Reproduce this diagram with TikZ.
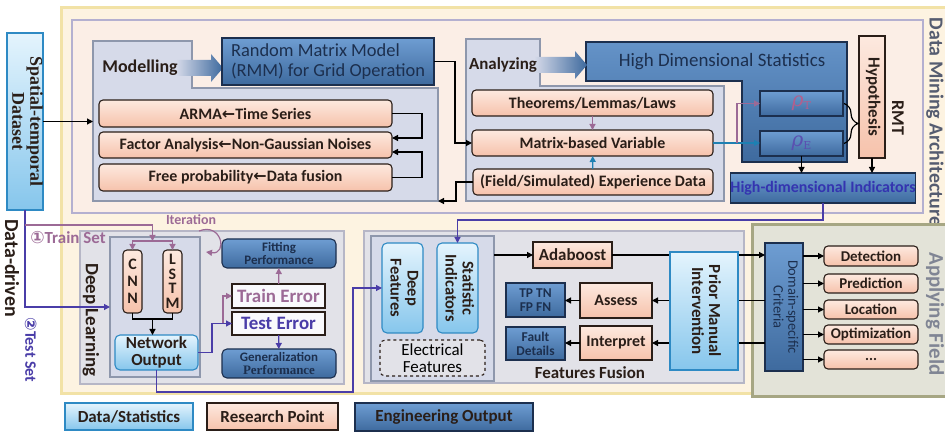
\documentclass[tikz,border=0pt]{standalone}
\usepackage{fontspec}
\setmainfont{Carlito}
\newfontfamily\symf{DejaVu Sans}
\newfontfamily\serf{Liberation Serif}
\newfontfamily\grk{DejaVu Serif}
\usepackage{graphicx}
\usetikzlibrary{arrows.meta,decorations.pathreplacing}
\definecolor{cream}{HTML}{FDF3E1}
\definecolor{frameY}{HTML}{F2E2A6}
\definecolor{topPanel}{HTML}{FBEEE6}
\definecolor{lav}{HTML}{B4B0D0}
\definecolor{panelB}{HTML}{D6DAE9}
\definecolor{panelBd}{HTML}{8E97AC}
\definecolor{greyP}{HTML}{E2E2E8}
\definecolor{greyPd}{HTML}{B6B6C6}
\definecolor{salT}{HTML}{FDE9DF}
\definecolor{salB}{HTML}{F6C2AB}
\definecolor{stT}{HTML}{6E9DD2}
\definecolor{stB}{HTML}{3E6A9E}
\definecolor{lbT}{HTML}{E4F4FD}
\definecolor{lbB}{HTML}{86C6EC}
\definecolor{lbD}{HTML}{2E8AC4}
\definecolor{navy}{HTML}{1C2F4E}
\definecolor{mauve}{HTML}{9C6A96}
\definecolor{violetL}{HTML}{4A3DA8}
\definecolor{tealL}{HTML}{1E80B2}
\definecolor{appF}{HTML}{E3E3D8}
\definecolor{appD}{HTML}{A6A683}
\definecolor{titleG}{HTML}{555C70}
\definecolor{ink}{HTML}{2A1E18}
\definecolor{rhoTc}{HTML}{B0608E}
\definecolor{rhoEc}{HTML}{5A50B0}
\definecolor{hdic}{HTML}{3434B0}
\newcommand\fsz[2]{\fontsize{#1}{#2}\selectfont}
\newcommand\rot[1]{\rotatebox{-90}{\begin{tabular}{@{}c@{}}#1\end{tabular}}}
\newcommand\rhosub[1]{{\grk\itshape ρ}\raisebox{-3bp}{\fsz{11}{11}\grk #1}}
\tikzset{
 pos4/.style n args={4}{at={({(#1+#3)/2},{(#2+#4)/2})}, minimum width={(#3-#1)*1bp}, minimum height={(#4-#2)*1bp}},
 base/.style={inner sep=0pt, outer sep=0pt, align=center, line width=1.1bp},
 sal/.style={base, draw=ink, top color=salT, bottom color=salB, rounded corners=4bp, font=\bfseries\fsz{16}{16}, text=ink},
 salsq/.style={sal, rounded corners=0pt},
 steel/.style={base, draw=navy, top color=stT, bottom color=stB, text=navy},
 lblue/.style={base, draw=lbD, top color=lbT, bottom color=lbB, rounded corners=5bp, text=ink},
 panel/.style={fill=panelB, draw=panelBd, line width=1.2bp},
 greypanel/.style={fill=greyP, draw=greyPd, line width=1.2bp},
 ghost/.style={base, draw=none, fill=none},
 plainln/.style={line width=1.2bp},
 conn/.style={line width=1.2bp, ->},
 ttl/.style={inner sep=0pt, text=ink},
}
\begin{document}
\begin{tikzpicture}[x=1bp, y=-1bp, >={Triangle[length=6bp,width=6bp]}]
\fill[white] (0,0) rectangle (945,436);
\useasboundingbox (0,0) rectangle (945,436);
% frames
\draw[fill=cream, draw=frameY, line width=3bp] (61,8) rectangle (962,394);
\draw[fill=topPanel, draw=lav, line width=1.2bp] (72,20) rectangle (923,213);

% ---------- Modelling ----------
\draw[panel] (93,41) -- (192,41) -- (192,88) -- (438,88) -- (438,201) -- (93,201) -- cycle;
\node[ghost, pos4={93}{41}{438}{201}] (modpanel) {};
\shade[left color=panelB, right color=stB] (176,60) -- (211,60) -- (211,54) -- (223,68) -- (211,82) -- (211,76) -- (176,76) -- cycle;
\node[ttl, font=\bfseries\fsz{18}{20}] (modt) at (140,68) {Modelling};
\node[steel, font=\fsz{18.5}{20}, align=left, pos4={222}{38}{434}{85}] (rmm) {Random Matrix Model\\(RMM) for Grid Operation};
\node[sal, pos4={99}{100}{392}{127}] (arma) {ARMA{\symf ←}Time Series};
\node[sal, pos4={99}{132}{392}{158}] (fac) {Factor Analysis{\symf ←}Non-Gaussian Noises};
\node[sal, pos4={99}{164}{392}{191}] (free) {Free probability{\symf ←}Data fusion};

% ---------- Analyzing ----------
\draw[line width=1.1bp, draw=navy, top color=stT!80!stB, bottom color=stB] (586,42) -- (847,42) -- (847,162) -- (742,162) -- (742,81) -- (586,81) -- cycle;
\node[ttl, font=\fsz{19}{20}, text=navy] (hdst) at (722,62) {High Dimensional Statistics};
\draw[panel] (466,39) -- (540,39) -- (540,86) -- (724,86) -- (724,201) -- (466,201) -- cycle;
\node[ghost, pos4={466}{39}{724}{201}] (anapanel) {};
\shade[left color=panelB, right color=stB] (534,57) -- (575,57) -- (575,51) -- (587,65) -- (575,79) -- (575,73) -- (534,73) -- cycle;
\node[ttl, font=\bfseries\fsz{17}{18}] (anat) at (503,65) {Analyzing};
\node[sal, pos4={472}{90}{713}{116}] (thm) {Theorems/Lemmas/Laws};
\node[sal, pos4={472}{130}{713}{156}] (mat) {Matrix-based Variable};
\node[sal, pos4={473}{169}{713}{195}] (expd) {(Field/Simulated) Experience Data};

\node[steel, pos4={760}{91}{843}{116}, font=\fsz{20}{20}, text=rhoTc] (rhoT) {\rhosub{T}};
\node[steel, pos4={760}{131}{843}{156}, font=\fsz{20}{20}, text=rhoEc] (rhoE) {\rhosub{E}};
\node[salsq, pos4={859}{36}{885}{158}, font=\bfseries\fsz{17}{17}] (hyp) {\rot{Hypothesis}};
\node[ttl, font=\bfseries\fsz{18}{18}, rotate=-90] (rmt) at (898,118) {RMT};
\node[steel, pos4={734}{173}{912}{203}, font=\bfseries\fsz{16}{16}, text=hdic] (hdi) {High-dimensional Indicators};
\node[ttl, font=\bfseries\fsz{20}{20}, text=titleG, rotate=-90] (dma) at (935,122) {Data Mining Architecture};

% top connectors
\draw[conn] (arma.east) -- ++(30,0) |- ([yshift=7bp]fac.east);
\draw[conn] (free.east) -- ++(30,0) |- ([yshift=-7bp]fac.east);
\draw[conn] (rmm.east) -- ++(21,0) |- (mat.west);
\draw[conn] (expd.west) -- ++(-17,0) |- (modpanel.south east);
\draw[conn, mauve] (thm) -- (mat);
\draw[conn, tealL] (expd) -- (mat);
\draw[conn, tealL] (mat.east) -- (mat.east -| rhoE.west);
\coordinate (brT) at (737,143);
\draw[conn, mauve] (brT) |- (rhoT.west);
\draw[plainln, decorate, decoration={brace, amplitude=14bp}] ([xshift=1bp]rhoT.east) -- ([xshift=1bp]rhoE.east);
\draw[conn] (rhoE.south) -- (rhoE.south |- hdi.north);
\draw[conn] (hyp.south) -- (hyp.south |- hdi.north);

% ---------- Deep learning ----------
\draw[greypanel] (80,231) rectangle (344,384);
\node[ttl, font=\bfseries\fsz{19}{19}, rotate=-90] (dlt) at (91,320) {Deep Learning};
\node[base, draw=panelBd, fill=panelB, line width=1.2bp, pos4={110}{237}{200}{377}] (dlbox) {};
\node[sal, pos4={123}{250}{142}{313}, font=\bfseries\fsz{16}{17}] (cnn) {C\\N\\N};
\node[sal, pos4={163}{250}{182}{313}, font=\bfseries\fsz{16}{14.5}] (lstm) {L\\S\\T\\M};
\node[lblue, pos4={115}{335}{198}{370}, font=\bfseries\fsz{17}{17}] (netout) {Network\\Output};
\node[steel, rounded corners=5bp, pos4={222}{239}{336}{268}, font=\bfseries\fsz{13}{13.5}] (fitp) {Fitting\\Performance};
\node[base, draw=ink, fill=white!85!panelB, pos4={232}{284}{325}{308}, font=\bfseries\fsz{19}{19}, text=mauve] (trerr) {Train Error};
\node[base, draw=ink, fill=white!85!panelB, pos4={232}{312}{325}{335}, font=\bfseries\fsz{19}{19}, text=violetL] (teerr) {Test Error};
\node[steel, rounded corners=5bp, pos4={222}{349}{336}{378}, font=\bfseries\fsz{13}{13.5}] (genp) {Generalization\\{\serf Performance}};

% dataset and data-driven
\node[lblue, rounded corners=0pt, pos4={7}{33}{43}{210}, font=\serf\bfseries\fsz{18}{18}] (data) {\rot{Spatial-temporal\\Dataset}};
\node[ttl, font=\bfseries\fsz{20}{20}, rotate=-90] (dd) at (12,268) {Data-driven};
\node[ttl, font=\bfseries\fsz{16}{16}, text=violetL, rotate=-90] (ts) at (31,350) {{\symf ②}Test Set};
\node[ttl, font=\bfseries\fsz{17}{17}, text=mauve] (trs) at (68,238) {{\symf ①}Train Set};
\node[ttl, font=\bfseries\fsz{14}{14}, text=mauve] (iter) at (191,220) {Iteration};

\draw[conn] (data.east) -- (data.east -| modpanel.west);
\draw[conn, violetL] (data.south) |- (dlbox.west);
\coordinate (tsplit) at (25,225);
\coordinate (bar) at (152.5,241);
\draw[conn, mauve] (tsplit) -| (bar);
\draw[conn, mauve] (bar) -| (cnn.north);
\draw[conn, mauve] (bar) -| (lstm.north);
\draw[conn, mauve] ([xshift=-1bp,yshift=6bp]dlbox.north east) .. controls +(23,-9) and +(22,3) .. ([xshift=6bp,yshift=-15bp]dlbox.north east);
\coordinate (cl) at (152.5,319);
\draw[plainln] (cnn.south) |- (cl) -| (lstm.south);
\draw[conn] (cl) -- (cl |- netout.north);
\draw[conn, violetL] (netout.east) -- ++(14,0) |- (teerr.west);
\draw[conn, mauve] ([xshift=-9bp]teerr.west) |- (trerr.west);
\draw[conn, mauve] (trerr) -- (fitp);
\draw[conn, violetL] (teerr) -- (genp);

% ---------- Features fusion ----------
\draw[greypanel] (364,231) rectangle (744,383);
\node[base, draw=panelBd, fill=panelB, line width=1.2bp, pos4={371}{236}{494}{381}] (ffin) {};
\node[lblue, pos4={382}{243}{423}{333}, font=\bfseries\fsz{16.5}{17}] (deepf) {\rot{Deep\\Features}};
\node[lblue, pos4={437}{243}{478}{333}, font=\bfseries\fsz{16.5}{17}] (stat) {\rot{Statistic\\Indicators}};
\node[base, draw=ink, dashed, rounded corners=5bp, fill=greyP, pos4={380}{340}{485}{376}, font=\fsz{17}{17}] (elec) {Electrical\\Features};
\node[salsq, pos4={533}{242}{612}{268}, font=\bfseries\fsz{17}{17}] (ada) {Adaboost};
\node[steel, pos4={506}{283}{565}{317}, font=\bfseries\fsz{13.5}{14}] (tp) {TP TN\\FP FN};
\node[steel, pos4={506}{327}{565}{360}, font=\bfseries\fsz{13.5}{14}] (fault) {Fault\\Details};
\node[salsq, pos4={580}{283}{652}{318}, font=\bfseries\fsz{16}{16}] (assess) {Assess};
\node[salsq, pos4={580}{326}{652}{360}, font=\bfseries\fsz{16}{16}] (interp) {Interpret};
\node[ttl, font=\bfseries\fsz{17}{17}] (fft) at (590,373) {Features Fusion};

% ---------- Applying field ----------
\draw[fill=appF, draw=appD, line width=3bp] (752,225) rectangle (962,397);
\node[ttl, font=\bfseries\fsz{21}{21}, text=titleG!75!white, rotate=-90] (aft) at (935,314) {Applying Field};
\node[steel, pos4={765}{243}{803}{371}, font=\fsz{14.5}{15}] (dom) {\rot{Domain-specific\\Criteria}};
\node[sal, pos4={824}{246}{918}{266}, font=\bfseries\fsz{15}{15}] (det) {Detection};
\node[sal, pos4={824}{274}{918}{293}, font=\bfseries\fsz{15}{15}] (pred) {Prediction};
\node[sal, pos4={824}{300}{918}{319}, font=\bfseries\fsz{15}{15}] (loc) {Location};
\node[sal, pos4={824}{325}{918}{344}, font=\bfseries\fsz{15}{15}] (opt) {Optimization};
\node[sal, pos4={824}{350}{918}{369}, font=\bfseries\fsz{15}{15}] (dots) {...};

% bottom connectors
\coordinate (lowrun) at (353,392);
\draw[conn, violetL] (netout.south) |- (lowrun) |- (deepf.west);
\draw[conn, violetL] (hdi.south) -- ++(0,17) -| (stat.north);
\draw[conn] (ffin.east |- ada.west) -- (ada.west);
\draw[conn] (ada.east) -- (ada.east -| dom.west);
\draw[conn] (dom.west |- assess.east) -- (assess.east);
\draw[conn] (dom.west |- interp.east) -- (interp.east);
\draw[conn] (assess.west) -- (assess.west -| tp.east);
\draw[conn] (interp.west) -- (interp.west -| fault.east);
\foreach \o in {det,pred,loc,opt,dots} \draw[conn] (dom.east |- \o.west) -- (\o.west);
\node[lblue, rounded corners=0pt, pos4={670}{252}{738}{370}, font=\bfseries\fsz{17}{17}] (prior) {\rot{Prior Manual\\Intervention}};

% ---------- legend ----------
\node[lblue, rounded corners=0pt, pos4={65}{403}{193}{430}, font=\bfseries\fsz{17}{17}] (lg1) {Data/Statistics};
\node[salsq, pos4={207}{403}{338}{430}, font=\bfseries\fsz{17}{17}] (lg2) {Research Point};
\node[steel, pos4={355}{403}{533}{431}, font=\bfseries\fsz{17}{17}, text=ink] (lg3) {Engineering Output};
\end{tikzpicture}
\end{document}
